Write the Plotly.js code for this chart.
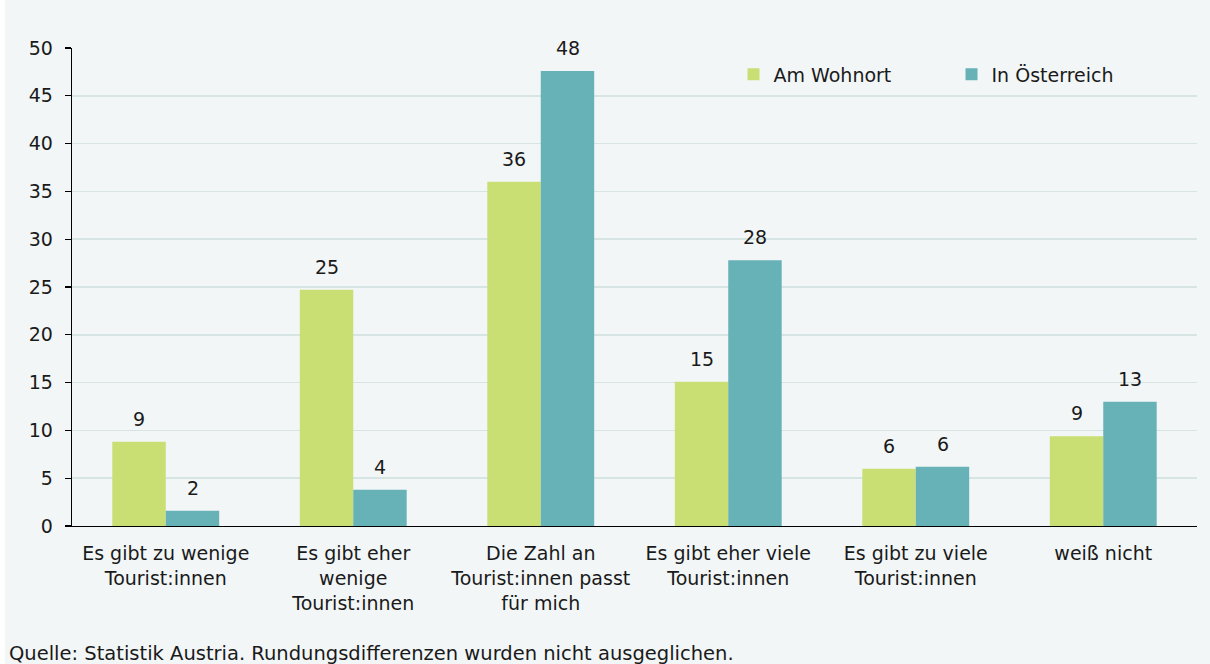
<!DOCTYPE html>
<html>
<head>
<meta charset="utf-8">
<script src="https://cdn.plot.ly/plotly-3.0.1.min.js"></script>
<style>
html,body{margin:0;padding:0;background:#ffffff;}
#chart{position:absolute;left:5px;top:0;width:1205px;height:664px;}
</style>
</head>
<body>
<div id="chart"></div>
<script>
const categories = [
  "Es gibt zu wenige<br>Tourist:innen",
  "Es gibt eher<br>wenige<br>Tourist:innen",
  "Die Zahl an<br>Tourist:innen passt<br>für mich",
  "Es gibt eher viele<br>Tourist:innen",
  "Es gibt zu viele<br>Tourist:innen",
  "weiß nicht"
];
const wohnortValues = [8.8, 24.7, 36.0, 15.1, 6.0, 9.4];
const oesterreichValues = [1.6, 3.8, 47.6, 27.8, 6.2, 13.0];
const wohnortLabels = ["9", "25", "36", "15", "6", "9"];
const oesterreichLabels = ["2", "4", "48", "28", "6", "13"];
const seriesNames = ["Am Wohnort", "In Österreich"];
const yTicks = [0, 5, 10, 15, 20, 25, 30, 35, 40, 45, 50];
const sourceText = "Quelle: Statistik Austria. Rundungsdifferenzen wurden nicht ausgeglichen.";

const FONT = "DejaVu Sans, sans-serif";
const FS = 19;
const TXT = "#1a1a1a";
const GREEN = "#c9df73";
const TEAL = "#67b2b7";

const traces = [
  {type: "bar", name: seriesNames[0], x: categories, y: wohnortValues,
   marker: {color: GREEN}, hoverinfo: "y"},
  {type: "bar", name: seriesNames[1], x: categories, y: oesterreichValues,
   marker: {color: TEAL}, hoverinfo: "y"}
];

const annotations = [];
categories.forEach((c, i) => {
  annotations.push({x: c, y: wohnortValues[i], text: wohnortLabels[i], showarrow: false,
    xshift: -26.75, yanchor: "bottom", yshift: 10, font: {family: FONT, size: FS, color: TXT}});
  annotations.push({x: c, y: oesterreichValues[i], text: oesterreichLabels[i], showarrow: false,
    xshift: 26.75, yanchor: "bottom", yshift: 10, font: {family: FONT, size: FS, color: TXT}});
});
annotations.push({xref: "paper", yref: "paper", x: -0.0578, y: -0.238, xanchor: "left", yanchor: "top",
  text: sourceText, showarrow: false, font: {family: FONT, size: 19.5, color: TXT}});

const layout = {
  width: 1205, height: 664,
  paper_bgcolor: "#f2f6f7", plot_bgcolor: "#f2f6f7",
  margin: {l: 67, r: 13, t: 48, b: 138},
  barmode: "group", bargap: 0.43, bargroupgap: 0,
  font: {family: FONT, size: FS, color: TXT},
  showlegend: true,
  legend: {orientation: "h", x: 0.588, xanchor: "left", y: 0.9446, yanchor: "middle",
    bgcolor: "rgba(0,0,0,0)", font: {family: FONT, size: FS, color: TXT},
    entrywidth: 173, entrywidthmode: "pixels", itemwidth: 30},
  xaxis: {type: "category", showline: true, linecolor: "#000000", linewidth: 1.3,
    ticks: "", showgrid: false, tickfont: {family: FONT, size: FS, color: TXT},
    ticklabelstandoff: 10, fixedrange: true},
  yaxis: {range: [0, 50], tickvals: yTicks, ticktext: yTicks.map(String),
    showline: true, linecolor: "#000000", linewidth: 1.3,
    ticks: "outside", ticklen: 6, tickcolor: "#000000", tickwidth: 1.3,
    showgrid: true, gridcolor: "#d6e4e4", gridwidth: 1.5, zeroline: false,
    tickfont: {family: FONT, size: FS, color: TXT}, ticklabelstandoff: 8, fixedrange: true},
  annotations: annotations
};

Plotly.newPlot("chart", traces, layout, {displayModeBar: false, staticPlot: true});
</script>
</body>
</html>
